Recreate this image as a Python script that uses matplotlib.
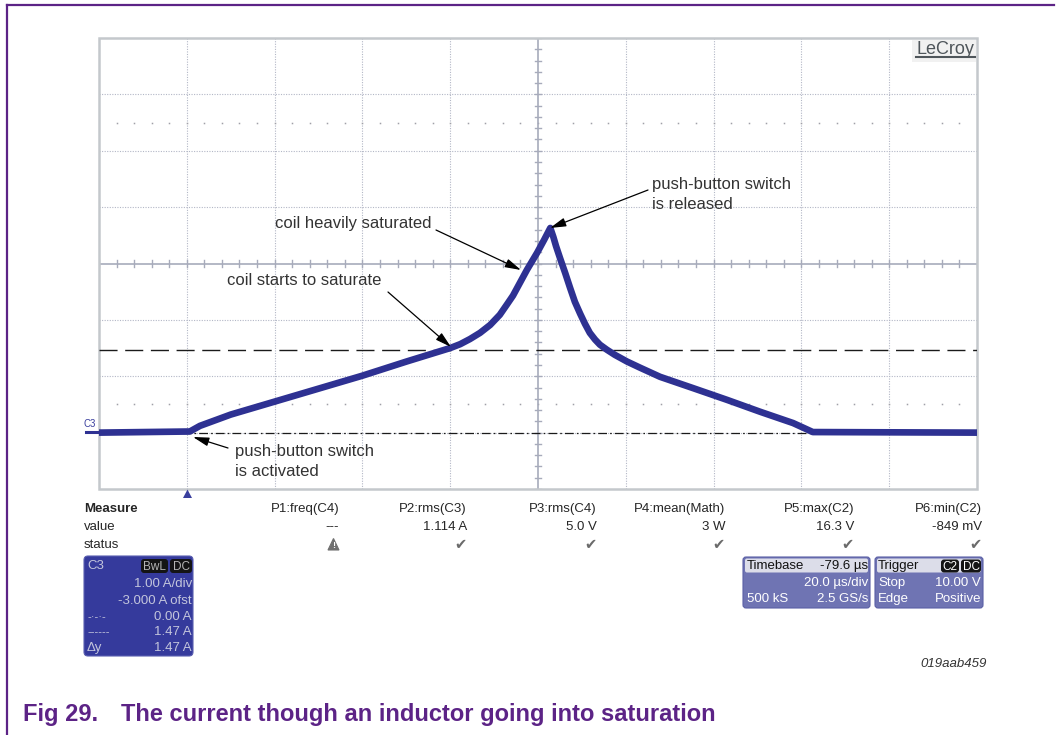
import numpy as np
import matplotlib
matplotlib.use('Agg')
import matplotlib.pyplot as plt
from matplotlib.patches import FancyBboxPatch, Rectangle, Polygon

time_us = [-20, 0.7, 3, 10, 20, 30, 40, 50, 60, 62.3, 64.5, 66.8, 69.1, 71.3,
           72.9, 74.3, 75.9, 77.5, 79.8, 81.4, 82.8, 83.5, 84.1, 85.0, 86.2,
           87.3, 88.4, 89.6, 90.7, 91.8, 93.0, 94.1, 95.7, 97.5, 100.3, 103.3,
           107.8, 115.3, 123.1, 130.6, 138.1, 142.6, 180]
current_A = [0, 0.02, 0.12, 0.32, 0.55, 0.78, 1.01, 1.26, 1.50, 1.57, 1.66, 1.77,
             1.91, 2.09, 2.27, 2.43, 2.66, 2.89, 3.19, 3.42, 3.63, 3.47, 3.31,
             3.10, 2.83, 2.57, 2.32, 2.11, 1.93, 1.77, 1.65, 1.56, 1.47, 1.38,
             1.26, 1.15, 0.99, 0.79, 0.58, 0.37, 0.17, 0.01, 0]
cursor_levels = [0.00, 1.47]          # A  (dash-dot, dashed)
x_range = [-20, 180]                  # us, 20 us/div
y_range = [-1, 7]                     # A, 1 A/div, -3 A offset

measure_names = ["P1:freq(C4)", "P2:rms(C3)", "P3:rms(C4)", "P4:mean(Math)",
                 "P5:max(C2)", "P6:min(C2)"]
measure_values = ["---", "1.114 A", "5.0 V", "3 W", "16.3 V", "-849 mV"]
measure_status = ["warn", "\u2714", "\u2714", "\u2714", "\u2714", "\u2714"]

c3_lines = ["1.00 A/div", "-3.000 A ofst", "0.00 A", "1.47 A", "1.47 A"]
c3_labels = ["", "", "-\u00b7-\u00b7-", "------", "\u0394y"]

annotations = [
    (["push-button switch", "is released"], (652, 184), (648, 190), (550, 228)),
    (["coil heavily saturated"], (275, 223), (436, 230), (521, 270)),
    (["coil starts to saturate"], (227, 280), (388, 292), (451, 347)),
    (["push-button switch", "is activated"], (235, 451), (228, 448), (193, 437)),
]

caption_num = "Fig 29."
caption_text = "The current though an inductor going into saturation"
code_label = "019aab459"

# ---------------- figure ----------------
W, H = 1061, 735
plt.rcParams['font.family'] = ['Liberation Sans', 'DejaVu Sans']
fig = plt.figure(figsize=(W / 100, H / 100), dpi=100)
fig.patch.set_facecolor('white')

L, R, T, B = 99, 977, 38, 489
ax = fig.add_axes([L / W, 1 - B / H, (R - L) / W, (B - T) / H])
ax.set_xlim(*x_range)
ax.set_ylim(*y_range)
ax.set_xticks([])
ax.set_yticks([])
for s in ax.spines.values():
    s.set_visible(False)

gridc = '#b3b7c6'
xc = (x_range[0] + x_range[1]) / 2
yc = (y_range[0] + y_range[1]) / 2
for t in np.arange(x_range[0] + 20, x_range[1], 20):
    if abs(t - xc) > 1e-6:
        ax.axvline(t, color=gridc, lw=0.8, ls=(0, (1, 1.3)), zorder=1)
for v in np.arange(y_range[0] + 1, y_range[1], 1):
    if abs(v - yc) > 1e-6:
        ax.axhline(v, color=gridc, lw=0.8, ls=(0, (1, 1.3)), zorder=1)

axc = '#a7abbb'
ax.axvline(xc, color=axc, lw=1.2, zorder=2)
ax.axhline(yc, color=axc, lw=1.2, zorder=2)
tx = np.arange(x_range[0], x_range[1] + 0.01, 4)
for t in tx:
    ax.plot([t, t], [yc - 0.06, yc + 0.06], color=axc, lw=1.0, zorder=2)
ty = np.arange(y_range[0], y_range[1] + 0.01, 0.2)
for v in ty:
    ax.plot([xc - 0.75, xc + 0.75], [v, v], color=axc, lw=1.0, zorder=2)
for v in [y_range[1] - 1.5, y_range[0] + 1.5]:
    ax.plot(tx[1:-1], [v] * len(tx[1:-1]), ls='none', marker='s', ms=1.1,
            color='#a0a0a8', mew=0, zorder=1)

ax.add_patch(Rectangle((0, 0), 1, 1, transform=ax.transAxes, fill=False,
                       edgecolor='#c4c8cc', lw=1.8, clip_on=False, zorder=3))

ax.axhline(cursor_levels[1], color='#1a1a1a', lw=1.0, ls=(0, (13, 5.5)), zorder=3)
ax.axhline(cursor_levels[0], color='#1a1a1a', lw=0.9, ls=(0, (7, 2.5, 1.3, 2.5)), zorder=3)

trace_c = '#2e3192'
ax.plot(time_us, current_A, color=trace_c, lw=4.8, solid_joinstyle='round',
        solid_capstyle='butt', zorder=5)

# ---------------- overlay in pixel coordinates ----------------
ov = fig.add_axes([0, 0, 1, 1])
ov.set_xlim(0, W)
ov.set_ylim(H, 0)
ov.axis('off')
ov.set_zorder(10)

purple = '#5c2386'
ov.plot([7, 7], [4.5, H], color=purple, lw=1.6)
ov.plot([7, 1054], [4.5, 4.5], color=purple, lw=1.6)

ov.add_patch(Rectangle((912, 40), 64, 22, color='#f1f1f1', lw=0))
ov.text(916, 53.5, "LeCroy", fontsize=13, color='#4f565b', va='baseline', ha='left')
ov.plot([916, 975], [56.5, 56.5], color='#4f565b', lw=1.5)

ov.text(84, 424, "C3", fontsize=7, color='#3a3f9e', va='center', ha='left')
ov.plot([86, 99], [432.3, 432.3], color=trace_c, lw=2.2)
ov.add_patch(Polygon([(187.5, 489.5), (183, 498), (192, 498)], color='#3a3f9e', lw=0))

tc = '#333333'
for lines, (tx0, ty0), tail, tip in annotations:
    for i, s in enumerate(lines):
        ov.text(tx0, ty0 + 20 * i, s, fontsize=12, color=tc, va='center', ha='left')
    ov.annotate("", xy=tip, xytext=tail,
                arrowprops=dict(arrowstyle='-|>,head_length=0.8,head_width=0.22',
                                color='black', lw=0.9, mutation_scale=12,
                                shrinkA=0, shrinkB=0))

mc = '#262626'
ov.text(84, 509, "Measure", fontsize=9.5, fontweight='bold', color=mc, va='center')
ov.text(84, 527, "value", fontsize=9.5, color=mc, va='center')
ov.text(84, 545, "status", fontsize=9.5, color=mc, va='center')
col_x = [339, 467, 597, 725, 854, 982]
for x, n, v, st in zip(col_x, measure_names, measure_values, measure_status):
    ov.text(x, 509, n, fontsize=9.5, color=mc, va='center', ha='right')
    ov.text(x, 527, v, fontsize=9.5, color=mc, va='center', ha='right')
    if st == "warn":
        ov.add_patch(Polygon([(x - 5.5, 538.5), (x - 11, 550), (x, 550)],
                             closed=True, fc='#707070', ec='#707070', lw=0.8))
        ov.text(x - 5.5, 545.5, "!", fontsize=6.5, fontweight='bold', color='white',
                va='center', ha='center')
    else:
        ov.text(x, 545, st, fontsize=10.5, color='#6b6b6b', va='center', ha='right')

ov.add_patch(FancyBboxPatch((84, 556), 109, 100, boxstyle='round,pad=0,rounding_size=4',
                            fc='#353a9c', ec='#5a5fb0', lw=0.8))
lc = '#c3c5dc'
ov.text(87, 566, "C3", fontsize=9.5, color=lc, va='center', ha='left')
for (bx, bw, s) in [(141, 27, "BwL"), (170, 22, "DC")]:
    ov.add_patch(FancyBboxPatch((bx, 559), bw, 14, boxstyle='round,pad=0,rounding_size=3',
                                fc='#141414', ec='none'))
    ov.text(bx + bw / 2, 566.5, s, fontsize=8.5, color='#b5b5b5', va='center', ha='center')
row_y = [584, 601, 617, 632, 648]
for y, s, lab in zip(row_y, c3_lines, c3_labels):
    ov.text(192, y, s, fontsize=9.5, color=lc, va='center', ha='right')
    if lab:
        ov.text(87, y, lab, fontsize=8 if lab != "\u0394y" else 9.5, color=lc,
                va='center', ha='left')

box_c = '#6f74b3'
ov.add_patch(FancyBboxPatch((743, 557), 127, 51, boxstyle='round,pad=0,rounding_size=3',
                            fc=box_c, ec='#5b60a6', lw=0.8))
ov.add_patch(FancyBboxPatch((745, 558.5), 123, 14, boxstyle='round,pad=0,rounding_size=2',
                            fc='#dcdde9', ec='none'))
ov.text(747, 566, "Timebase", fontsize=9.5, color='#111', va='center', ha='left')
ov.text(868, 566, "-79.6 \u00b5s", fontsize=9.5, color='#111', va='center', ha='right')
ov.text(868, 583, "20.0 \u00b5s/div", fontsize=9.5, color='white', va='center', ha='right')
ov.text(747, 599, "500 kS", fontsize=9.5, color='white', va='center', ha='left')
ov.text(868, 599, "2.5 GS/s", fontsize=9.5, color='white', va='center', ha='right')

ov.add_patch(FancyBboxPatch((875, 557), 108, 51, boxstyle='round,pad=0,rounding_size=3',
                            fc=box_c, ec='#5b60a6', lw=0.8))
ov.add_patch(FancyBboxPatch((877, 558.5), 104, 14, boxstyle='round,pad=0,rounding_size=2',
                            fc='#dcdde9', ec='none'))
ov.text(878, 566, "Trigger", fontsize=9.5, color='#111', va='center', ha='left')
for (bx, bw, s) in [(941, 18, "C2"), (961, 20, "DC")]:
    ov.add_patch(FancyBboxPatch((bx, 559.5), bw, 13, boxstyle='round,pad=0,rounding_size=3',
                                fc='#141414', ec='none'))
    ov.text(bx + bw / 2, 566.5, s, fontsize=8.5, color='white', va='center', ha='center')
ov.text(878, 583, "Stop", fontsize=9.5, color='white', va='center', ha='left')
ov.text(981, 583, "10.00 V", fontsize=9.5, color='white', va='center', ha='right')
ov.text(878, 599, "Edge", fontsize=9.5, color='white', va='center', ha='left')
ov.text(981, 599, "Positive", fontsize=9.5, color='white', va='center', ha='right')

ov.text(987, 664, code_label, fontsize=9.5, style='italic', color='#333', va='center', ha='right')
ov.text(23, 715, caption_num, fontsize=17, fontweight='bold', color=purple, va='center', ha='left')
ov.text(121, 715, caption_text, fontsize=17, fontweight='bold', color=purple, va='center', ha='left')

fig.savefig('out.png', dpi=100)
